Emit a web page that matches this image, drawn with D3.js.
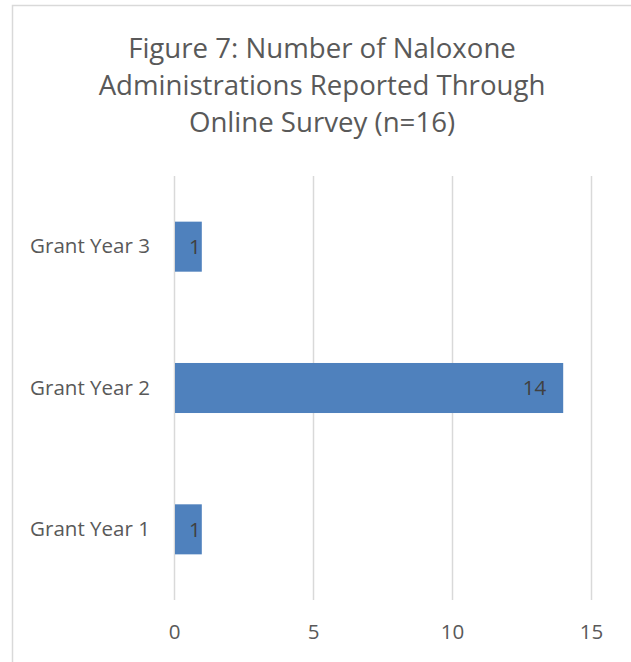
<!DOCTYPE html>
<html><head><meta charset="utf-8">
<script src="https://cdn.jsdelivr.net/npm/d3@7"></script>
<style>html,body{margin:0;padding:0;background:#fff;overflow:hidden}</style>
</head><body>
<script>
const categories = ["Grant Year 1", "Grant Year 2", "Grant Year 3"];
const values = [1, 14, 1];
const xTicks = [0, 5, 10, 15];
const titleLines = ["Figure 7: Number of Naloxone", "Administrations Reported Through", "Online Survey (n=16)"];

const W = 631, H = 662;
const FONT = "Open Sans, Noto Sans, sans-serif";
const svg = d3.select("body").append("svg").attr("width", W).attr("height", H);

svg.append("rect").attr("x", 12.5).attr("y", 5.5).attr("width", 640).attr("height", 700)
  .attr("fill", "#fff").attr("stroke", "#d9d9d9").attr("stroke-width", 1.5);

function fit(sel, target) {
  let fs = parseFloat(sel.attr("font-size"));
  const w = sel.node().getComputedTextLength();
  sel.attr("font-size", fs * target / w);
}

// Title
const tl = svg.append("g");
const tl1 = tl.append("text").attr("x", 322).attr("y", 58).attr("text-anchor", "middle")
  .attr("font-family", FONT).attr("font-size", 24).attr("fill", "#595959").text(titleLines[0]);
fit(tl1, 388);
const tfs = tl1.attr("font-size");
titleLines.slice(1).forEach((t, i) => {
  tl.append("text").attr("x", 322).attr("y", 58 + 37 * (i + 1)).attr("text-anchor", "middle")
    .attr("font-family", FONT).attr("font-size", tfs).attr("fill", "#595959").text(t);
});

const x = d3.scaleLinear().domain([0, 15]).range([174, 591]);
const y = d3.scaleBand().domain(categories.slice().reverse()).range([176, 600]).paddingInner(0.646).paddingOuter(0.323);

// gridlines
svg.append("g").selectAll("line").data(xTicks).join("line")
  .attr("x1", d => x(d) + 0.5).attr("x2", d => x(d) + 0.5)
  .attr("y1", 176).attr("y2", 600)
  .attr("stroke", "#d9d9d9").attr("stroke-width", 1.5);

// bars
svg.append("g").selectAll("rect").data(categories).join("rect")
  .attr("x", x(0) + 1).attr("y", d => y(d))
  .attr("width", (d, i) => x(values[i]) - x(0) - 1)
  .attr("height", y.bandwidth())
  .attr("fill", "#4f81bd");

// y axis labels
const yAxis = svg.append("g").attr("transform", `translate(${x(0) - 24},0)`)
  .call(d3.axisLeft(y).tickSize(0).tickPadding(0));
yAxis.select(".domain").remove();
const yt = yAxis.selectAll("text").attr("font-family", FONT).attr("font-size", 17).attr("fill", "#595959");
fit(d3.select(yt.nodes()[0]), 120);
const catFs = parseFloat(d3.select(yt.nodes()[0]).attr("font-size"));
yt.attr("font-size", catFs);

// value labels
svg.append("g").selectAll("text").data(categories).join("text")
  .attr("x", (d, i) => (x(values[i]) - x(0) > 60 ? x(values[i]) - 17 : x(values[i]) - 1))
  .attr("y", d => y(d) + y.bandwidth() / 2)
  .attr("dy", "0.35em").attr("text-anchor", "end")
  .attr("font-family", FONT).attr("font-size", catFs).attr("fill", "#404040")
  .text((d, i) => values[i]);

// x axis labels
const xAxis = svg.append("g").attr("transform", `translate(0,600)`)
  .call(d3.axisBottom(x).tickValues(xTicks).tickSize(0).tickPadding(24).tickFormat(d3.format("d")));
xAxis.select(".domain").remove();
xAxis.selectAll("text").attr("font-family", FONT).attr("font-size", catFs).attr("fill", "#595959");
</script>
</body></html>
